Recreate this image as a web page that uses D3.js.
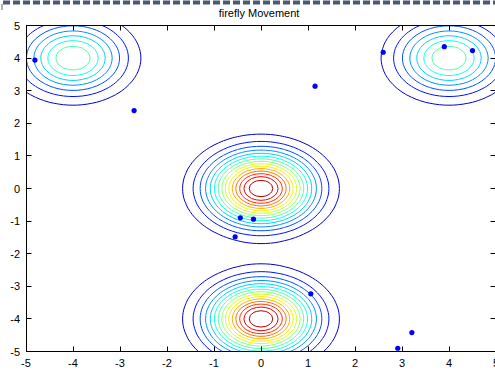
<!DOCTYPE html>
<html><head><meta charset="utf-8">
<script src="https://cdn.jsdelivr.net/npm/d3@7"></script>
<style>
body{margin:0;background:#fff;overflow:hidden}
text{font-family:"Liberation Sans",Arial,Helvetica,sans-serif;fill:#000}
</style>
</head><body>
<svg id="c" width="495" height="371"></svg>
<script>
// ---- data ----
const chartTitle = "firefly Movement";
// four-peak landscape: sum of amp*exp(-(x-px)^2-(y-py)^2)
const peakX = [4, -4, 0, 0];
const peakY = [4, 4, -4, 0];
const peakAmp = [1, 1, 2, 2];
const gridStep = 0.1;        // MATLAB grid -5:0.1:5
const levelCount = 15;       // contour(x,y,z,15)
const xTicks = [-5, -4, -3, -2, -1, 0, 1, 2, 3, 4, 5];
const yTicks = [-5, -4, -3, -2, -1, 0, 1, 2, 3, 4, 5];
const fireflyX = [-4.81, -2.70, 1.15, 2.60, 3.90, 4.50, -0.44, -0.16, -0.55, 1.06, 3.21, 2.91];
const fireflyY = [3.94, 2.39, 3.14, 4.18, 4.35, 4.23, -0.90, -0.94, -1.48, -3.23, -4.42, -4.90];

// ---- layout ----
const svg = d3.select("#c");
const sx = d3.scaleLinear().domain([-5, 5]).range([26, 496]);
const sy = d3.scaleLinear().domain([-5, 5]).range([351.5, 25.5]);

// top dashed bar + small mark
svg.append("line").attr("x1", 3).attr("x2", 495).attr("y1", 2.5).attr("y2", 2.5)
  .attr("stroke", "#4b5a6e").attr("stroke-width", 4).attr("stroke-dasharray", "7,3");
svg.append("line").attr("x1", 2).attr("x2", 2).attr("y1", 4).attr("y2", 10)
  .attr("stroke", "#666").attr("stroke-width", 1);

// jet(64) colormap as in MATLAB
function jetMap(m) {
  const n = Math.ceil(m / 4);
  const u = [];
  for (let i = 1; i <= n; i++) u.push(i / n);
  for (let i = 1; i < n; i++) u.push(1);
  for (let i = n; i >= 1; i--) u.push(i / n);
  const J = Array.from({length: m}, () => [0, 0, 0]);
  const g0 = Math.ceil(n / 2) - (m % 4 === 1 ? 1 : 0);
  u.forEach((val, k) => {
    const g = g0 + k + 1, r = g + n, b = g - n;
    if (r <= m) J[r - 1][0] = val;
    if (g >= 1 && g <= m) J[g - 1][1] = val;
    if (b >= 1) J[b - 1][2] = val;
  });
  return J;
}
const jet = jetMap(64);

function field(x, y) {
  let s = 0;
  for (let k = 0; k < peakX.length; k++) {
    const dx = x - peakX[k], dy = y - peakY[k];
    s += peakAmp[k] * Math.exp(-(dx * dx) - (dy * dy));
  }
  return s;
}

// grid (padded outside the axes, clipped later)
const h = gridStep;
const gridPoints = Math.round(10 / h) + 1;
const pad = 6;
const nx = gridPoints + 2 * pad, ny = gridPoints + 2 * pad;
const values = new Array(nx * ny);
let zmin = Infinity, zmax = -Infinity;
for (let j = 0; j < ny; j++) for (let i = 0; i < nx; i++) {
  const v = field(-5 + (i - pad) * h, -5 + (j - pad) * h);
  values[j * nx + i] = v;
  if (i >= pad && i < pad + gridPoints && j >= pad && j < pad + gridPoints) {
    zmin = Math.min(zmin, v); zmax = Math.max(zmax, v);
  }
}
const levels = d3.range(1, levelCount + 1).map(k => zmin + (zmax - zmin) * k / (levelCount + 1));

const contours = d3.contours().size([nx, ny]).thresholds(levels)(values);
const proj = d3.geoTransform({
  point(x, y) {
    this.stream.point(sx(-5 + (x - 0.5 - pad) * h), sy(-5 + (y - 0.5 - pad) * h));
  }
});
const path = d3.geoPath(proj);

svg.append("clipPath").attr("id", "clip").append("rect")
  .attr("x", 26).attr("y", 25.5).attr("width", 470).attr("height", 326);

const colorOf = v => {
  let idx = Math.floor((v - zmin) / (zmax - zmin) * 64);
  idx = Math.max(0, Math.min(63, idx));
  const c = jet[idx];
  return d3.rgb(c[0] * 255, c[1] * 255, c[2] * 255).toString();
};

svg.append("g").attr("clip-path", "url(#clip)")
  .selectAll("path").data(contours).join("path")
  .attr("d", path).attr("fill", "none")
  .attr("stroke", d => colorOf(d.value)).attr("stroke-width", 1);

// fireflies
svg.append("g").selectAll("circle").data(fireflyX).join("circle")
  .attr("cx", (d, i) => sx(d)).attr("cy", (d, i) => sy(fireflyY[i]))
  .attr("r", 2.6).attr("fill", "#0000ff");

// axes box with inward ticks
const ax = svg.append("g");
ax.append("rect").attr("x", 26.5).attr("y", 25.5).attr("width", 469.5).attr("height", 326)
  .attr("fill", "none").attr("stroke", "#000").attr("stroke-width", 1);
const tl = 5;
xTicks.forEach(t => {
  const x = Math.round(sx(t)) + 0.5;
  ax.append("line").attr("x1", x).attr("x2", x).attr("y1", 351.5).attr("y2", 351.5 - tl).attr("stroke", "#000");
  ax.append("line").attr("x1", x).attr("x2", x).attr("y1", 25.5).attr("y2", 25.5 + tl).attr("stroke", "#000");
  ax.append("text").attr("x", sx(t)).attr("y", 367).attr("text-anchor", "middle")
    .attr("font-size", 11).text(t);
});
yTicks.forEach(t => {
  const y = Math.round(sy(t) - 0.5) + 0.5;
  ax.append("line").attr("x1", 26.5).attr("x2", 26.5 + tl).attr("y1", y).attr("y2", y).attr("stroke", "#000");
  ax.append("line").attr("x1", 495.5).attr("x2", 495.5 - tl).attr("y1", y).attr("y2", y).attr("stroke", "#000");
  ax.append("text").attr("x", 20).attr("y", sy(t) + 4).attr("text-anchor", "end")
    .attr("font-size", 11).text(t);
});

// title
svg.append("text").attr("x", 259).attr("y", 17).attr("text-anchor", "middle")
  .attr("font-size", 11).text(chartTitle);
</script>
</body></html>
